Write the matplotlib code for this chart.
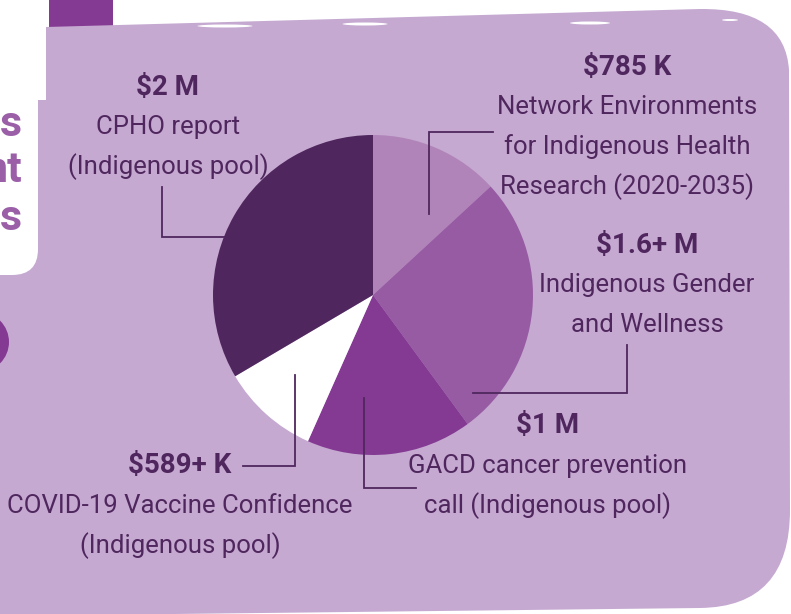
"""Funding breakdown pie on a lavender card."""
import matplotlib
matplotlib.use("Agg")
import matplotlib.pyplot as plt
from matplotlib.path import Path
from matplotlib.patches import PathPatch, FancyBboxPatch, Circle, Rectangle, Ellipse

# --- data -----------------------------------------------------------------
amounts_k = [785, 1600, 1000, 589, 2000]
value_labels = ["$785 K", "$1.6+ M", "$1 M", "$589+ K", "$2 M"]
descriptions = [
    "Network Environments\nfor Indigenous Health\nResearch (2020-2035)",
    "Indigenous Gender\nand Wellness",
    "GACD cancer prevention\ncall (Indigenous pool)",
    "COVID-19 Vaccine Confidence\n(Indigenous pool)",
    "CPHO report\n(Indigenous pool)",
]
slice_colors = ["#b084b8", "#975ba3", "#843a93", "#ffffff", "#4f275e"]

BG = "#c5a9d1"
TEXT = "#4f275e"
W, H = 791, 614
FONT = ["Roboto", "DejaVu Sans"]


def Y(y):
    # image-style y (from top) to data y
    return H - y


fig = plt.figure(figsize=(W / 100, H / 100), dpi=100)
fig.patch.set_facecolor("white")
ax = fig.add_axes([0, 0, 1, 1])

# --- background card --------------------------------------------------------
verts = [
    (0, Y(616)), (0, Y(100)), (46, Y(100)), (46, Y(27)),
    (700, Y(9)),
    (785, Y(8)), (789, Y(70)),
    (790, Y(510)),
    (790, Y(607)), (700, Y(608)),
    (0, Y(616)),
]
codes = [Path.MOVETO, Path.LINETO, Path.LINETO, Path.LINETO,
         Path.LINETO,
         Path.CURVE3, Path.CURVE3,
         Path.LINETO,
         Path.CURVE3, Path.CURVE3,
         Path.CLOSEPOLY]
ax.add_patch(PathPatch(Path(verts, codes), facecolor=BG, edgecolor="none", zorder=1))

# brush streaks along the top edge
for cx, cy, w, h in [(225, 26, 55, 3), (365, 24, 45, 3), (590, 23, 40, 3), (730, 20, 16, 2)]:
    ax.add_patch(Ellipse((cx, Y(cy)), w, h, facecolor="white", edgecolor="none", zorder=2))

# left-side fragments of neighbouring panels
ax.add_patch(Rectangle((49, Y(27)), 64, 30, facecolor="#843a93", edgecolor="none", zorder=0))
ax.add_patch(FancyBboxPatch((-60, Y(275)), 98, 320,
                            boxstyle="round,pad=0,rounding_size=26",
                            facecolor="white", edgecolor="none", zorder=2))
ax.add_patch(Circle((-21, Y(342)), 30, facecolor="#843a93", edgecolor="none", zorder=2))
for txt, yy in [("s", 125), ("nt", 170), ("s", 218)]:
    ax.text(22, Y(yy), txt, ha="right", va="center", fontsize=31, fontweight="bold",
            color="#9b5fa8", family=FONT, zorder=3)

# --- pie ----------------------------------------------------------------------
ax.pie(amounts_k, colors=slice_colors, startangle=90, counterclock=False,
       center=(373, Y(295)), radius=160, wedgeprops=dict(linewidth=0, zorder=3))

# --- leader lines -------------------------------------------------------------
leaders = [
    [(429, 214), (429, 132), (493, 132)],
    [(473, 393), (627, 393), (627, 345)],
    [(364, 398), (364, 488), (416, 488)],
    [(295, 375), (295, 466), (243, 466)],
    [(225, 237), (162, 237), (162, 187)],
]
for pts in leaders:
    ax.plot([p[0] for p in pts], [Y(p[1]) for p in pts], color=TEXT, lw=1.3,
            solid_joinstyle="miter", zorder=4)

# --- labels -------------------------------------------------------------------
label_pos = [(627, 67), (647, 245), (548, 426), (180, 466), (168, 87)]
for val, desc, (lx, ly) in zip(value_labels, descriptions, label_pos):
    ax.text(lx, Y(ly), val, ha="center", va="center", fontsize=20, fontweight="bold",
            color=TEXT, family=FONT, zorder=5)
    for i, line in enumerate(desc.split("\n")):
        ax.text(lx, Y(ly + 40 * (i + 1)), line, ha="center", va="center", fontsize=18.5,
                color=TEXT, family=FONT, zorder=5)

ax.set_xlim(0, W)
ax.set_ylim(0, H)
ax.set_aspect("auto")
ax.axis("off")

fig.savefig("out.png", dpi=100, facecolor="white")
